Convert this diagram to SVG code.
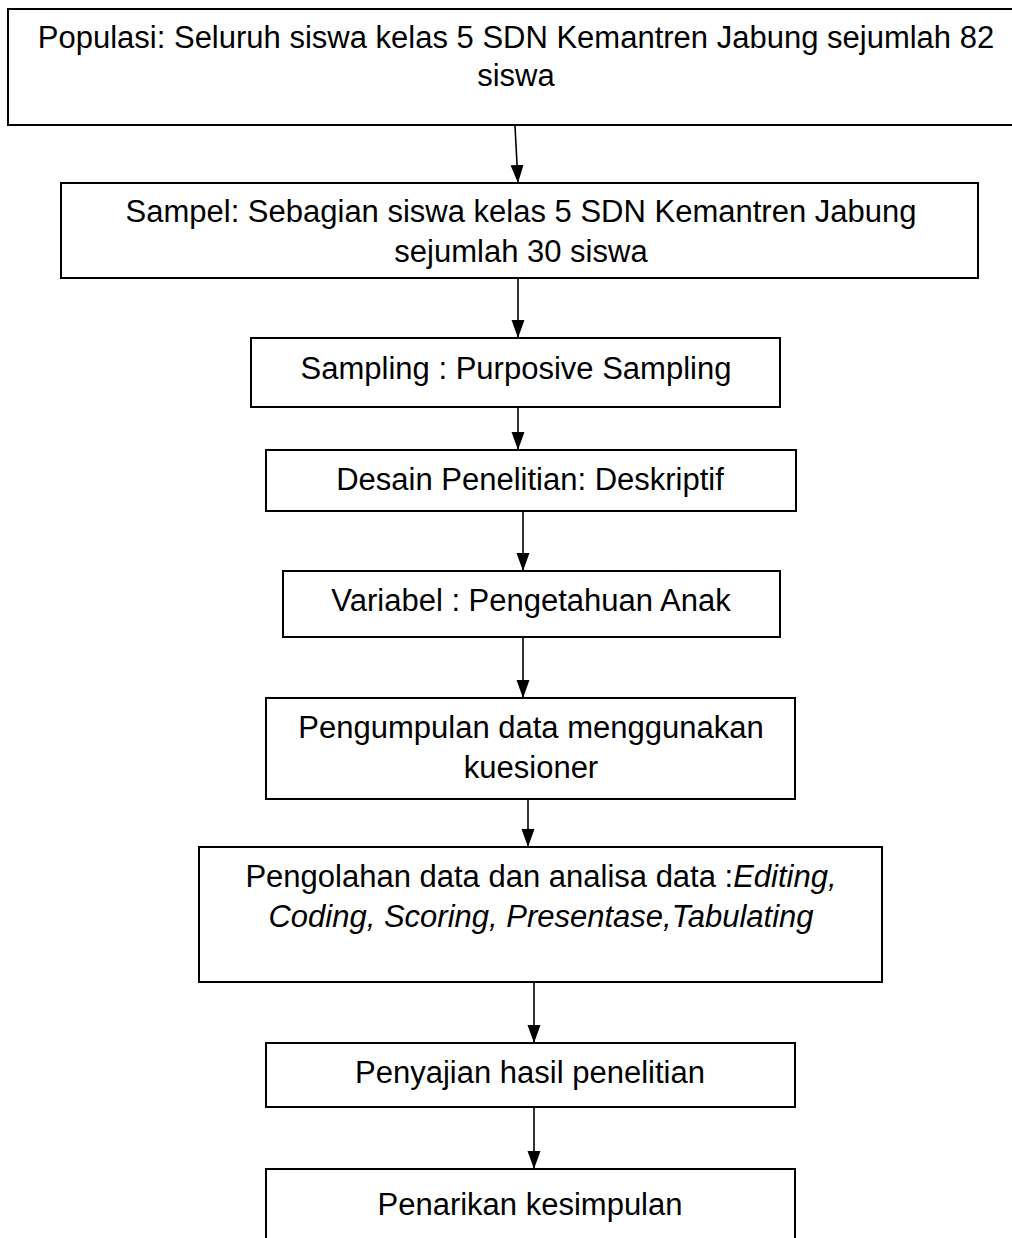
<svg xmlns="http://www.w3.org/2000/svg" width="1012" height="1238" viewBox="0 0 1012 1238">
  <style>
    .box { fill: #ffffff; stroke: #000000; stroke-width: 2; }
    .lbl { font-family: "Liberation Sans", Arial, sans-serif; font-size: 31px; fill: #000000; text-anchor: middle; }
    .it { font-style: italic; }
    .edge { stroke: #000000; stroke-width: 1.6; fill: none; marker-end: url(#arrow); }
  </style>
  <defs>
    <marker id="arrow" markerUnits="userSpaceOnUse" markerWidth="19" markerHeight="14" refX="18" refY="6.5" orient="auto">
      <path d="M0,0 L18,6.5 L0,13 Z" fill="#000000"/>
    </marker>
  </defs>
  <rect width="1012" height="1238" fill="#ffffff"/>

  <g id="populasi">
    <rect class="box" x="8" y="9" width="1020" height="116"/>
    <text class="lbl" x="516" y="48">Populasi: Seluruh siswa kelas 5 SDN Kemantren Jabung sejumlah 82</text>
    <text class="lbl" x="516" y="86">siswa</text>
  </g>

  <g id="sampel">
    <rect class="box" x="61" y="183" width="917" height="95"/>
    <text class="lbl" x="521" y="222">Sampel: Sebagian siswa kelas 5 SDN Kemantren Jabung</text>
    <text class="lbl" x="521" y="262">sejumlah 30 siswa</text>
  </g>

  <g id="sampling">
    <rect class="box" x="251" y="338" width="529" height="69"/>
    <text class="lbl" x="516" y="379">Sampling : Purposive Sampling</text>
  </g>

  <g id="desain">
    <rect class="box" x="266" y="450" width="530" height="61"/>
    <text class="lbl" x="530" y="490">Desain Penelitian: Deskriptif</text>
  </g>

  <g id="variabel">
    <rect class="box" x="283" y="571" width="497" height="66"/>
    <text class="lbl" x="531" y="611">Variabel : Pengetahuan Anak</text>
  </g>

  <g id="pengumpulan">
    <rect class="box" x="266" y="698" width="529" height="101"/>
    <text class="lbl" x="531" y="738">Pengumpulan data menggunakan</text>
    <text class="lbl" x="531" y="778">kuesioner</text>
  </g>

  <g id="pengolahan">
    <rect class="box" x="199" y="847" width="683" height="135"/>
    <text class="lbl" x="541" y="887">Pengolahan data dan analisa data :<tspan class="it">Editing,</tspan></text>
    <text class="lbl it" x="541" y="927">Coding, Scoring, Presentase,Tabulating</text>
  </g>

  <g id="penyajian">
    <rect class="box" x="266" y="1043" width="529" height="64"/>
    <text class="lbl" x="530" y="1083">Penyajian hasil penelitian</text>
  </g>

  <g id="penarikan">
    <rect class="box" x="266" y="1169" width="529" height="90"/>
    <text class="lbl" x="530" y="1215">Penarikan kesimpulan</text>
  </g>

  <g id="connectors">
    <line class="edge" x1="515" y1="126" x2="518" y2="183"/>
    <line class="edge" x1="518" y1="279" x2="518" y2="338"/>
    <line class="edge" x1="518" y1="408" x2="518" y2="450"/>
    <line class="edge" x1="523" y1="512" x2="523" y2="571"/>
    <line class="edge" x1="523" y1="638" x2="523" y2="698"/>
    <line class="edge" x1="528" y1="800" x2="528" y2="847"/>
    <line class="edge" x1="534" y1="983" x2="534" y2="1043"/>
    <line class="edge" x1="534" y1="1108" x2="534" y2="1169"/>
  </g>
</svg>
